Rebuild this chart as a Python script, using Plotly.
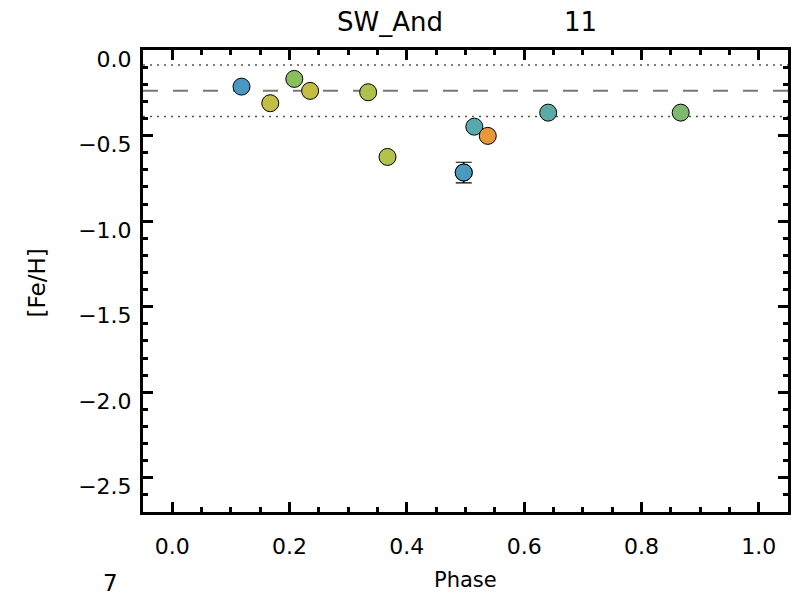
import plotly.graph_objects as go

# ---- data ----
phase = [0.118, 0.167, 0.208, 0.235, 0.334, 0.367, 0.497, 0.515, 0.538, 0.641, 0.867]
feh = [-0.214, -0.311, -0.169, -0.239, -0.247, -0.625, -0.716, -0.448, -0.502, -0.366, -0.366]
feh_err = [0.0, 0.0, 0.0, 0.0, 0.0, 0.0, 0.06, 0.0, 0.0, 0.0, 0.0]
colors = ["#4a97c4", "#c4bd44", "#8abf5e", "#c4bd44", "#adc24c", "#b2c24a",
          "#4a9ac0", "#57a9ad", "#e8973a", "#5aaaa6", "#7cb96f"]
feh_mean = -0.238
feh_sigma = 0.15
star_name = "SW_And"
n_obs = "11"
panel_label = "7"

x_range = [-0.05, 1.05]
y_range = [-2.7, 0.0]

FONT = "DejaVu Sans"

fig = go.Figure()

# error bars (only non-zero ones)
ei = [i for i, e in enumerate(feh_err) if e > 0]
fig.add_trace(go.Scatter(
    x=[phase[i] for i in ei], y=[feh[i] for i in ei], mode="markers",
    marker=dict(size=17, color=[colors[i] for i in ei], line=dict(color="black", width=1)),
    error_y=dict(type="data", array=[feh_err[i] for i in ei], color="black", thickness=1.2, width=8),
    showlegend=False, hoverinfo="skip"))

fig.add_trace(go.Scatter(
    x=phase, y=feh, mode="markers",
    marker=dict(size=17, color=colors, line=dict(color="black", width=1)),
    showlegend=False))

# mean and +/- sigma lines
fig.add_shape(type="line", xref="paper", yref="y", x0=0, x1=1, y0=feh_mean, y1=feh_mean,
              line=dict(color="#777777", width=2, dash="15px,15px"), layer="below")
for s in (-1, 1):
    v = feh_mean + s * feh_sigma
    fig.add_shape(type="line", xref="paper", yref="y", x0=0, x1=1, y0=v, y1=v,
                  line=dict(color="#555555", width=1.5, dash="2px,5px"), layer="below")

axis_common = dict(showline=True, linecolor="black", linewidth=3, mirror="allticks",
                   ticks="inside", tickcolor="black", tickwidth=3, showgrid=False,
                   zeroline=False, tickfont=dict(family=FONT, size=22, color="black"))

fig.update_xaxes(range=x_range, tickmode="array", tickvals=[0, 0.2, 0.4, 0.6, 0.8, 1.0],
                 ticktext=["0.0", "0.2", "0.4", "0.6", "0.8", "1.0"], ticklen=10,
                 minor=dict(ticks="inside", dtick=0.05, tick0=0, ticklen=5, tickwidth=3, tickcolor="black"),
                 ticklabelstandoff=13, **axis_common)
fig.update_yaxes(range=y_range, tickmode="array", tickvals=[0, -0.5, -1.0, -1.5, -2.0, -2.5],
                 ticktext=["0.0", "\u22120.5", "\u22121.0", "\u22121.5", "\u22122.0", "\u22122.5"],
                 ticklen=10,
                 minor=dict(ticks="inside", dtick=0.1, tick0=0, ticklen=5, tickwidth=3, tickcolor="black"),
                 ticklabelstandoff=4, ticklabelshift=9, **axis_common)

annotations = [
    dict(text=star_name, x=0.383, y=1.0605, xref="paper", yref="paper", showarrow=False,
         xanchor="center", yanchor="middle", font=dict(family=FONT, size=26, color="black")),
    dict(text=n_obs, x=0.679, y=1.0605, xref="paper", yref="paper", showarrow=False,
         xanchor="center", yanchor="middle", font=dict(family=FONT, size=26, color="black")),
    dict(text="[Fe/H]", x=-0.165, y=0.496, xref="paper", yref="paper", showarrow=False,
         textangle=-90, xanchor="center", yanchor="middle", font=dict(family=FONT, size=23, color="black")),
    dict(text="Phase", x=0.5, y=-0.148, xref="paper", yref="paper", showarrow=False,
         xanchor="center", yanchor="middle", font=dict(family=FONT, size=21, color="black")),
    dict(text=panel_label, x=(110 - 143) / 648, y=-(598 - 512.5) / 462.5, xref="paper", yref="paper",
         showarrow=False, xanchor="center", yanchor="bottom", borderpad=0,
         font=dict(family=FONT, size=23, color="black")),
]

fig.update_layout(width=798, height=599, margin=dict(l=143, r=7, t=50, b=86.5),
                  plot_bgcolor="white", paper_bgcolor="white", annotations=annotations)

fig.write_html("out.html", config={"displayModeBar": False},
               post_script="document.body.style.margin='0';document.body.style.overflow='hidden';")
